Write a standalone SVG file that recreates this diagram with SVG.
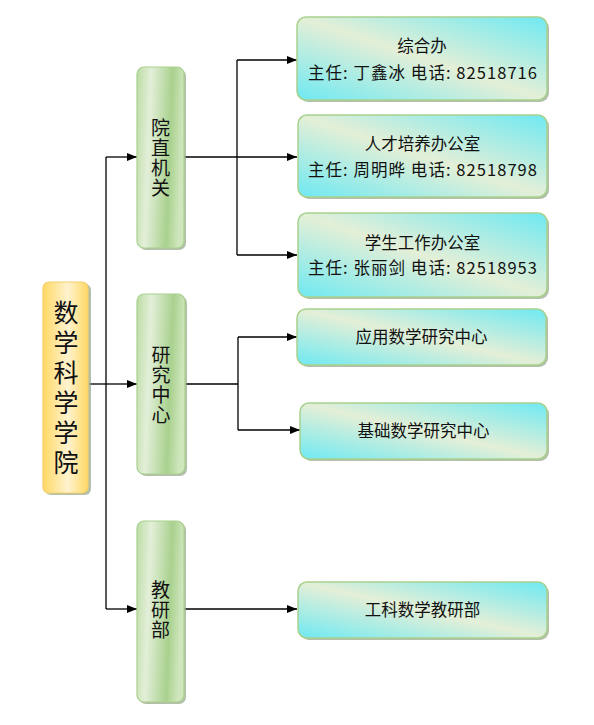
<svg xmlns="http://www.w3.org/2000/svg" width="594" height="725" viewBox="0 0 594 725">
<defs>
<linearGradient id="gLeaf" x1="0" y1="1" x2="1" y2="0">
<stop offset="0" stop-color="#6ee9f2"/>
<stop offset="0.5" stop-color="#e4efd7"/>
<stop offset="1" stop-color="#6ee9f2"/>
</linearGradient>
<linearGradient id="gGreen" x1="0" y1="0" x2="1" y2="0.15">
<stop offset="0" stop-color="#bcdca4"/>
<stop offset="0.3" stop-color="#e3efd9"/>
<stop offset="0.75" stop-color="#a9d18e"/>
<stop offset="1" stop-color="#cfe6bd"/>
</linearGradient>
<linearGradient id="gYellow" x1="0" y1="0" x2="1" y2="0">
<stop offset="0" stop-color="#ffd865"/>
<stop offset="0.55" stop-color="#fff3cf"/>
<stop offset="1" stop-color="#ffd865"/>
</linearGradient>
<marker id="arr" markerWidth="10" markerHeight="8" refX="10" refY="4" orient="auto" markerUnits="userSpaceOnUse">
<path d="M0,0 L10,4 L0,8 z" fill="#000"/>
</marker>
</defs>
<style>
.sh{fill:#9aa98e;opacity:0.75}
.leaf{fill:url(#gLeaf);stroke:#a9d18e;stroke-width:1.5}
.grn{fill:url(#gGreen);stroke:#a9d18e;stroke-width:1.2}
.yel{fill:url(#gYellow);stroke:#f5cf6a;stroke-width:1.2}
text{font-family:"Microsoft YaHei","Noto Sans CJK SC","Noto Sans",sans-serif;fill:#111;text-anchor:middle}
.t{font-size:16.5px}
.v{font-size:19px;writing-mode:vertical-rl;letter-spacing:1px}
.m{font-size:25px;writing-mode:vertical-rl;letter-spacing:5px}
.ln{fill:none;stroke:#000;stroke-width:1.3}
</style>

<g id="connectors">
<polyline class="ln" points="89,384 106,384"/>
<polyline class="ln" points="106,157 106,609"/>
<line class="ln" x1="106" y1="157" x2="137" y2="157" marker-end="url(#arr)"/>
<line class="ln" x1="106" y1="384" x2="137" y2="384" marker-end="url(#arr)"/>
<line class="ln" x1="106" y1="609" x2="137" y2="609" marker-end="url(#arr)"/>
<polyline class="ln" points="184,157 237,157"/>
<polyline class="ln" points="237,60 237,255"/>
<line class="ln" x1="237" y1="60" x2="297" y2="60" marker-end="url(#arr)"/>
<line class="ln" x1="237" y1="157" x2="297" y2="157" marker-end="url(#arr)"/>
<line class="ln" x1="237" y1="255" x2="297" y2="255" marker-end="url(#arr)"/>
<polyline class="ln" points="185,384 238,384"/>
<polyline class="ln" points="238,337 238,430"/>
<line class="ln" x1="238" y1="337" x2="297" y2="337" marker-end="url(#arr)"/>
<line class="ln" x1="238" y1="430" x2="300" y2="430" marker-end="url(#arr)"/>
<line class="ln" x1="184" y1="609" x2="297" y2="609" marker-end="url(#arr)"/>
</g>

<g id="main">
<rect class="sh" x="45" y="284" width="46" height="211" rx="6"/>
<rect class="yel" x="43" y="282" width="45" height="211" rx="6"/>
<text class="m" x="66" y="390">数学科学学院</text>
</g>

<g id="yuanzhi">
<rect class="sh" x="139" y="69" width="47" height="181" rx="7"/>
<rect class="grn" x="137" y="67" width="47" height="181" rx="7"/>
<text class="v" x="160.5" y="158">院直机关</text>
</g>

<g id="yanjiu">
<rect class="sh" x="139" y="296" width="48" height="180" rx="7"/>
<rect class="grn" x="137" y="294" width="48" height="180" rx="7"/>
<text class="v" x="161" y="385">研究中心</text>
</g>

<g id="jiaoyan">
<rect class="sh" x="139" y="523" width="47" height="181" rx="7"/>
<rect class="grn" x="137" y="521" width="47" height="181" rx="7"/>
<text class="v" x="160.5" y="610">教研部</text>
</g>

<g id="zonghe">
<rect class="sh" x="299" y="19" width="250" height="83" rx="9"/>
<rect class="leaf" x="297" y="17" width="250" height="83" rx="9"/>
<text class="t" x="422" y="52">综合办</text>
<text class="t" x="422.5" y="79" textLength="229" lengthAdjust="spacing">主任: 丁鑫冰 电话: 82518716</text>
</g>

<g id="rencai">
<rect class="sh" x="300" y="117" width="249" height="82" rx="9"/>
<rect class="leaf" x="298" y="115" width="249" height="82" rx="9"/>
<text class="t" x="422.5" y="150">人才培养办公室</text>
<text class="t" x="422.5" y="176" textLength="229" lengthAdjust="spacing">主任: 周明晔 电话: 82518798</text>
</g>

<g id="xuesheng">
<rect class="sh" x="300" y="215" width="249" height="84" rx="9"/>
<rect class="leaf" x="298" y="213" width="249" height="84" rx="9"/>
<text class="t" x="422.5" y="249">学生工作办公室</text>
<text class="t" x="422.5" y="274" textLength="229" lengthAdjust="spacing">主任: 张丽剑 电话: 82518953</text>
</g>

<g id="yingyong">
<rect class="sh" x="299" y="311" width="249" height="56" rx="9"/>
<rect class="leaf" x="297" y="309" width="249" height="56" rx="9"/>
<text class="t" x="421.5" y="343">应用数学研究中心</text>
</g>

<g id="jichu">
<rect class="sh" x="302" y="405" width="247" height="56" rx="9"/>
<rect class="leaf" x="300" y="403" width="247" height="56" rx="9"/>
<text class="t" x="423.5" y="437">基础数学研究中心</text>
</g>

<g id="gongke">
<rect class="sh" x="300" y="584" width="249" height="56" rx="9"/>
<rect class="leaf" x="298" y="582" width="249" height="56" rx="9"/>
<text class="t" x="422.5" y="616">工科数学教研部</text>
</g>
</svg>
